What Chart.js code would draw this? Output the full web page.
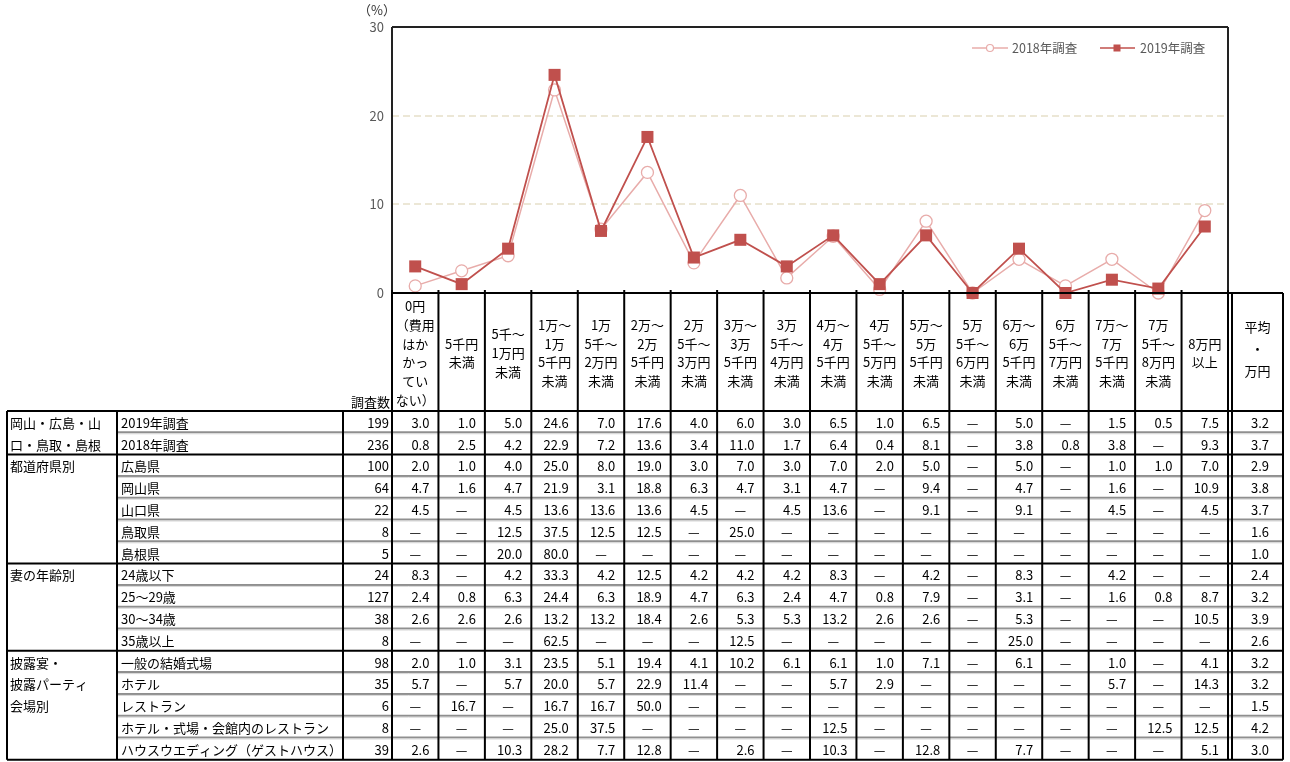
<!DOCTYPE html>
<html>
<head>
<meta charset="utf-8">
<script src="https://cdn.jsdelivr.net/npm/chart.js@4.4.1/dist/chart.umd.min.js"></script>
<style>
  html, body { margin: 0; padding: 0; background: #fff; }
  canvas { display: block; }
</style>
</head>
<body>
<canvas id="mygraph" width="1290" height="762"></canvas>
<script>
// header labels of the price columns (one entry per line)
const categories = [
  ['0円', '（費用', 'はか', 'かっ', 'てい', 'ない）'],
  ['5千円', '未満'],
  ['5千～', '1万円', '未満'],
  ['1万～', '1万', '5千円', '未満'],
  ['1万', '5千～', '2万円', '未満'],
  ['2万～', '2万', '5千円', '未満'],
  ['2万', '5千～', '3万円', '未満'],
  ['3万～', '3万', '5千円', '未満'],
  ['3万', '5千～', '4万円', '未満'],
  ['4万～', '4万', '5千円', '未満'],
  ['4万', '5千～', '5万円', '未満'],
  ['5万～', '5万', '5千円', '未満'],
  ['5万', '5千～', '6万円', '未満'],
  ['6万～', '6万', '5千円', '未満'],
  ['6万', '5千～', '7万円', '未満'],
  ['7万～', '7万', '5千円', '未満'],
  ['7万', '5千～', '8万円', '未満'],
  ['8万円', '以上']
]
const avgHeader = ['平均', '・', '万円']
const countHeader = '調査数'
const yUnit = '（%）'
const yTicks = [0, 10, 20, 30]

// null = "—"
const series2019 = [3.0, 1.0, 5.0, 24.6, 7.0, 17.6, 4.0, 6.0, 3.0, 6.5, 1.0, 6.5, null, 5.0, null, 1.5, 0.5, 7.5]
const series2018 = [0.8, 2.5, 4.2, 22.9, 7.2, 13.6, 3.4, 11.0, 1.7, 6.4, 0.4, 8.1, null, 3.8, 0.8, 3.8, null, 9.3]
const seriesNames = ['2019年調査', '2018年調査']

const rowGroups = ['岡山・広島・山', '口・鳥取・島根', '都道府県別', '', '', '', '', '妻の年齢別', '', '', '',
  '披露宴・', '披露パーティ', '会場別', '', '']
const rowLabels = ['2019年調査', '2018年調査', '広島県', '岡山県', '山口県', '鳥取県', '島根県',
  '24歳以下', '25～29歳', '30～34歳', '35歳以上',
  '一般の結婚式場', 'ホテル', 'レストラン', 'ホテル・式場・会館内のレストラン', 'ハウスウエディング（ゲストハウス）']
const rowCounts = [199, 236, 100, 64, 22, 8, 5, 24, 127, 38, 8, 98, 35, 6, 8, 39]
const rowAverages = [3.2, 3.7, 2.9, 3.8, 3.7, 1.6, 1.0, 2.4, 3.2, 3.9, 2.6, 3.2, 3.2, 1.5, 4.2, 3.0]
const rowValues = [
  series2019,
  series2018,
  [2.0, 1.0, 4.0, 25.0, 8.0, 19.0, 3.0, 7.0, 3.0, 7.0, 2.0, 5.0, null, 5.0, null, 1.0, 1.0, 7.0],
  [4.7, 1.6, 4.7, 21.9, 3.1, 18.8, 6.3, 4.7, 3.1, 4.7, null, 9.4, null, 4.7, null, 1.6, null, 10.9],
  [4.5, null, 4.5, 13.6, 13.6, 13.6, 4.5, null, 4.5, 13.6, null, 9.1, null, 9.1, null, 4.5, null, 4.5],
  [null, null, 12.5, 37.5, 12.5, 12.5, null, 25.0, null, null, null, null, null, null, null, null, null, null],
  [null, null, 20.0, 80.0, null, null, null, null, null, null, null, null, null, null, null, null, null, null],
  [8.3, null, 4.2, 33.3, 4.2, 12.5, 4.2, 4.2, 4.2, 8.3, null, 4.2, null, 8.3, null, 4.2, null, null],
  [2.4, 0.8, 6.3, 24.4, 6.3, 18.9, 4.7, 6.3, 2.4, 4.7, 0.8, 7.9, null, 3.1, null, 1.6, 0.8, 8.7],
  [2.6, 2.6, 2.6, 13.2, 13.2, 18.4, 2.6, 5.3, 5.3, 13.2, 2.6, 2.6, null, 5.3, null, null, null, 10.5],
  [null, null, null, 62.5, null, null, null, 12.5, null, null, null, null, null, 25.0, null, null, null, null],
  [2.0, 1.0, 3.1, 23.5, 5.1, 19.4, 4.1, 10.2, 6.1, 6.1, 1.0, 7.1, null, 6.1, null, 1.0, null, 4.1],
  [5.7, null, 5.7, 20.0, 5.7, 22.9, 11.4, null, null, 5.7, 2.9, null, null, null, null, 5.7, null, 14.3],
  [null, 16.7, null, 16.7, 16.7, 50.0, null, null, null, null, null, null, null, null, null, null, null, null],
  [null, null, null, 25.0, 37.5, null, null, null, null, 12.5, null, null, null, null, null, null, 12.5, 12.5],
  [2.6, null, 10.3, 28.2, 7.7, 12.8, null, 2.6, null, 10.3, null, 12.8, null, 7.7, null, null, null, 5.1]
]
const groupBreaks = [2, 7, 11]

const FONT = '"Noto Sans CJK JP", "Liberation Sans", sans-serif'
const c2019 = '#c0504d'
const c2018 = '#e8acaa'

// frame, legend and table under the plot
const tablePlugin = {
  id: 'table',
  afterDraw(chart) {
    const ctx = chart.ctx
    const xs = chart.scales.x
    const area = chart.chartArea
    const half = (xs.getPixelForValue(1) - xs.getPixelForValue(0)) / 2
    const edges = []
    for (let i = 0; i < categories.length; i++) edges.push(xs.getPixelForValue(i) - half)
    edges.push(xs.getPixelForValue(categories.length - 1) + half)

    const left = 7, groupRight = 117, labelRight = 343, countRight = area.left
    const avgLeft = area.right + 4, avgRight = 1283
    const headTop = area.bottom, headBottom = 411
    const rowH = 21.8
    const bottom = headBottom + rowH * rowLabels.length

    const line = (x1, y1, x2, y2, color, w) => {
      ctx.beginPath()
      ctx.strokeStyle = color
      ctx.lineWidth = w
      ctx.moveTo(x1, y1)
      ctx.lineTo(x2, y2)
      ctx.stroke()
    }

    ctx.save()
    // plot frame
    line(area.left, area.top, area.right, area.top, '#222', 2)
    line(area.right, area.top, area.right, area.bottom, '#222', 2)
    line(area.left, area.top, area.left, area.bottom, '#222', 2)

    // unit label
    ctx.fillStyle = '#333'
    ctx.font = '13px ' + FONT
    ctx.textAlign = 'center'
    ctx.textBaseline = 'middle'
    ctx.fillText(yUnit, 377, 10)

    // legend
    const ly = 48
    ctx.font = '12.5px ' + FONT
    ctx.fillStyle = '#595959'
    ctx.textAlign = 'left'
    line(972, ly, 1008, ly, c2018, 1.5)
    ctx.beginPath()
    ctx.arc(990, ly, 3.5, 0, Math.PI * 2)
    ctx.fillStyle = '#fff'
    ctx.fill()
    ctx.strokeStyle = c2018
    ctx.lineWidth = 1.2
    ctx.stroke()
    ctx.fillStyle = '#595959'
    ctx.fillText(seriesNames[1], 1012, ly)
    line(1100, ly, 1135, ly, c2019, 1.5)
    ctx.fillStyle = c2019
    ctx.fillRect(1113.5, ly - 3.5, 7, 7)
    ctx.fillStyle = '#595959'
    ctx.fillText(seriesNames[0], 1140, ly)

    // header text
    ctx.fillStyle = '#000'
    ctx.font = '13px ' + FONT
    ctx.textAlign = 'center'
    const headMid = (headTop + headBottom) / 2 + 1
    const lh = 18.8
    categories.forEach((lines, i) => {
      const cx = xs.getPixelForValue(i)
      lines.forEach((t, k) => {
        ctx.fillText(t, cx, headMid + (k - (lines.length - 1) / 2) * lh)
      })
    })
    avgHeader.forEach((t, k) => {
      ctx.fillText(t, (avgLeft + avgRight) / 2, headMid - 4 + (k - 1) * 22)
    })
    ctx.textAlign = 'right'
    ctx.fillText(countHeader, countRight - 2, headBottom - 9)

    // body text
    rowLabels.forEach((lab, r) => {
      const cy = headBottom + rowH * r + rowH / 2 + 1
      ctx.textAlign = 'left'
      if (rowGroups[r]) ctx.fillText(rowGroups[r], left + 3, cy)
      ctx.fillText(lab, groupRight + 4, cy)
      ctx.textAlign = 'right'
      ctx.fillText(String(rowCounts[r]), countRight - 3, cy)
      rowValues[r].forEach((v, i) => {
        if (v === null) {
          ctx.textAlign = 'center'
          ctx.fillText('—', xs.getPixelForValue(i), cy)
        } else {
          ctx.textAlign = 'right'
          ctx.fillText(v.toFixed(1), edges[i + 1] - 9, cy)
        }
      })
      ctx.textAlign = 'right'
      ctx.fillText(rowAverages[r].toFixed(1), avgRight - 14, cy)
    })

    // row rules
    for (let r = 1; r < rowLabels.length; r++) {
      if (groupBreaks.includes(r)) continue
      const y = headBottom + rowH * r
      line(groupRight, y - 0.5, avgRight, y - 0.5, '#8f8f8f', 2)
      line(groupRight, y + 1, avgRight, y + 1, '#d6d6d6', 1)
    }
    groupBreaks.forEach(r => {
      const y = headBottom + rowH * r
      line(left, y, avgRight, y, '#000', 2)
    })
    line(left, headBottom, avgRight, headBottom, '#000', 2)
    line(left, bottom, avgRight, bottom, '#000', 2)
    line(area.left, headTop, avgRight, headTop, '#000', 2)

    // column rules
    edges.forEach(x => line(x, headTop - 3, x, bottom, '#000', 2))
    line(avgLeft, headTop, avgLeft, bottom, '#000', 2)
    line(avgRight, headTop, avgRight, bottom, '#000', 2)
    line(left, headBottom, left, bottom, '#000', 2)
    line(groupRight, headBottom, groupRight, bottom, '#000', 2)
    line(labelRight, headBottom, labelRight, bottom, '#000', 2)
    ctx.restore()
  }
}

const ctx = document.getElementById('mygraph').getContext('2d')
new Chart(ctx, {
  type: 'line',
  data: {
    labels: categories.map(c => c.join('')),
    datasets: [{
      label: seriesNames[0],
      data: series2019.map(v => v ?? 0),
      borderColor: c2019,
      backgroundColor: c2019,
      borderWidth: 1.8,
      pointStyle: 'rect',
      pointRadius: 8.5,
      pointBorderWidth: 0,
      order: 1,
      clip: false
    }, {
      label: seriesNames[1],
      data: series2018.map(v => v ?? 0),
      borderColor: c2018,
      backgroundColor: '#fff',
      borderWidth: 1.5,
      pointStyle: 'circle',
      pointRadius: 6,
      pointBorderWidth: 1.3,
      order: 2,
      clip: false
    }]
  },
  options: {
    responsive: false,
    animation: false,
    events: [],
    layout: { padding: { top: 27, right: 62, bottom: 469, left: 0 } },
    plugins: { legend: { display: false }, tooltip: { enabled: false } },
    scales: {
      x: {
        offset: true,
        grid: { display: false, drawTicks: false },
        border: { display: false },
        ticks: { display: false },
        afterFit: s => { s.height = 0 }
      },
      y: {
        min: yTicks[0],
        max: yTicks[yTicks.length - 1],
        afterBuildTicks: s => { s.ticks = yTicks.map(v => ({ value: v })) },
        ticks: { color: '#595959', font: { size: 13, family: FONT }, padding: 8 },
        grid: {
          drawTicks: false,
          lineWidth: 2,
          color: c => (c.tick && c.tick.value > 0 && c.tick.value < 30) ? '#ece7d6' : 'rgba(0,0,0,0)'
        },
        border: { display: false, dash: [7, 4] },
        afterFit: s => { s.width = 392 }
      }
    }
  },
  plugins: [tablePlugin]
})
</script>
</body>
</html>
